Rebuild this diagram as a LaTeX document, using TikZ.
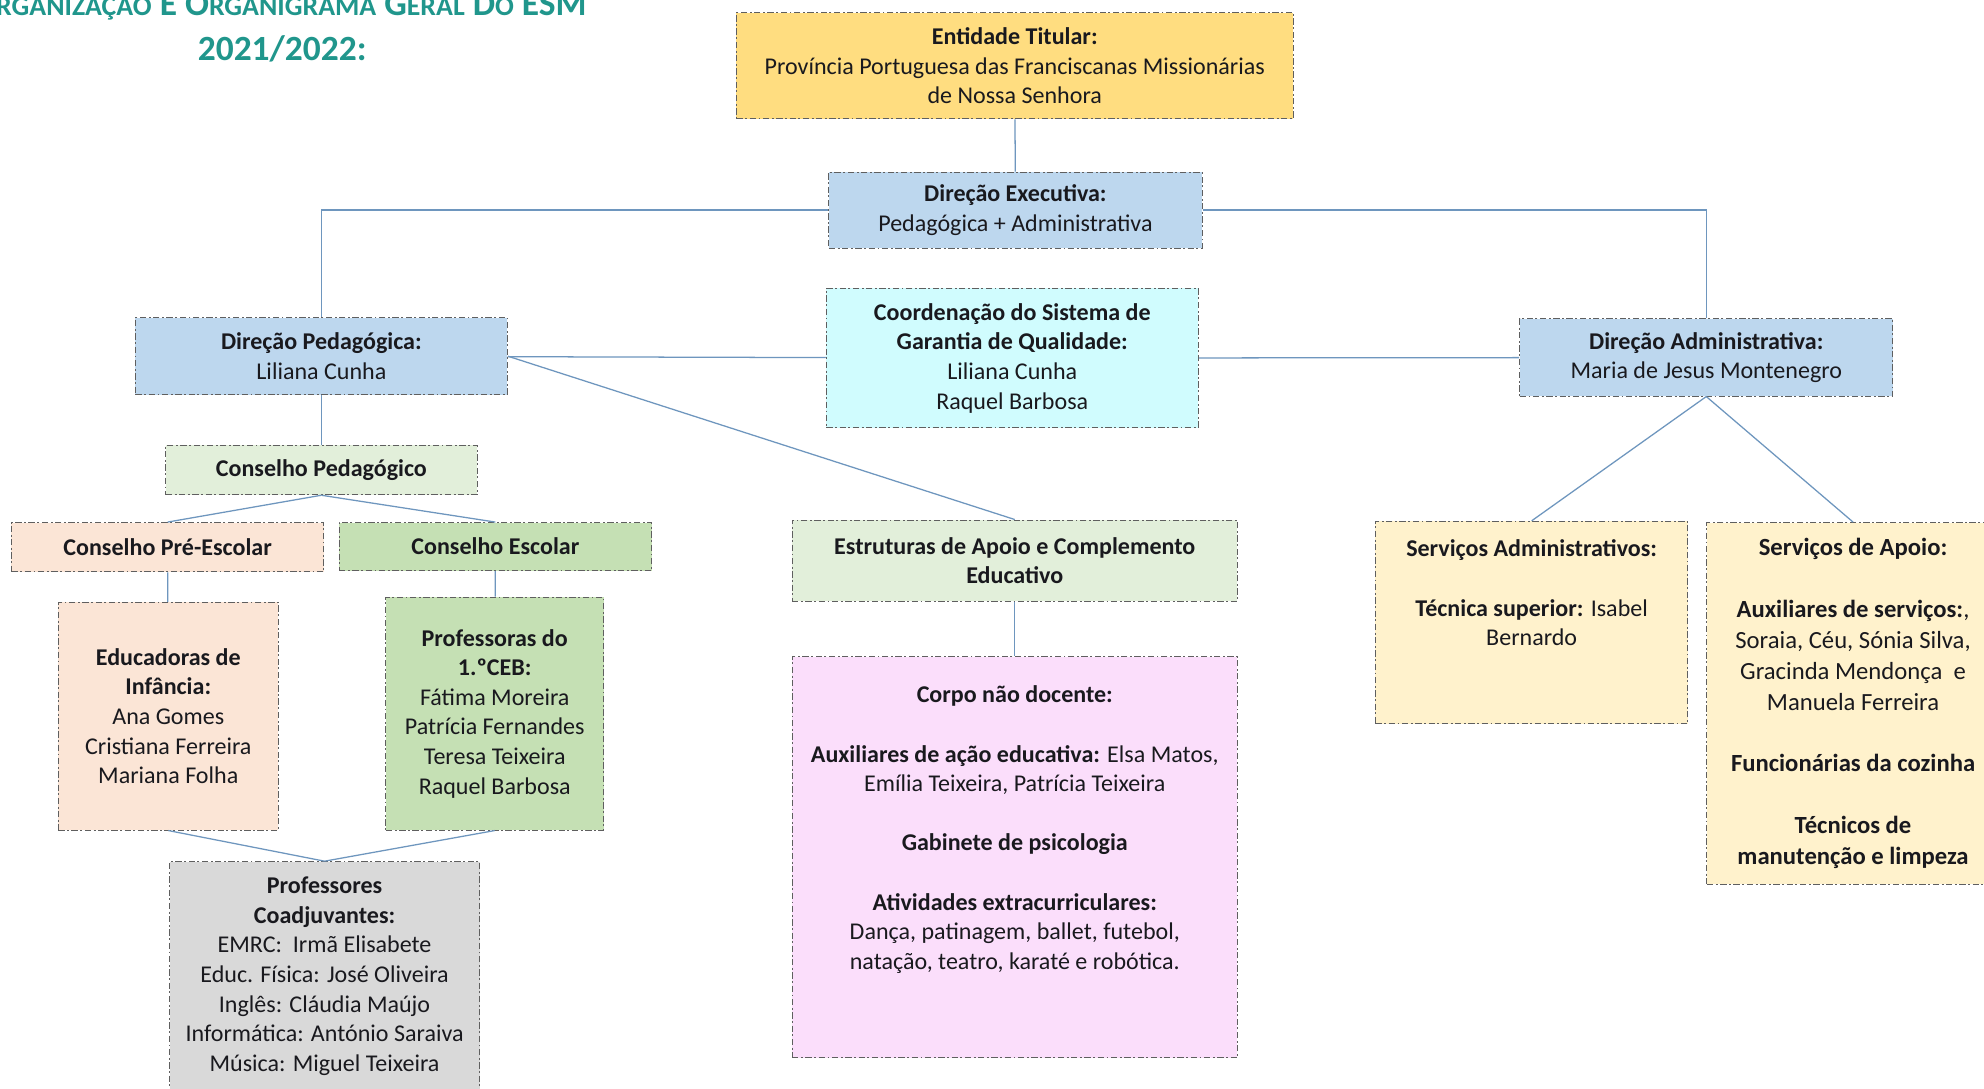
\documentclass[tikz,border=0pt]{standalone}
\usepackage{fontspec}
\setmainfont{Carlito}
\usepackage{tikz}

\definecolor{entcol}{RGB}{255,221,128}
\definecolor{dircol}{RGB}{189,215,238}
\definecolor{qualcol}{RGB}{208,252,254}
\definecolor{lgreen}{RGB}{226,239,218}
\definecolor{peach}{RGB}{251,229,214}
\definecolor{mgreen}{RGB}{197,224,180}
\definecolor{greybox}{RGB}{217,217,217}
\definecolor{pinkbox}{RGB}{251,222,251}
\definecolor{servcol}{RGB}{255,242,204}
\definecolor{linkcol}{RGB}{110,150,190}
\definecolor{boxline}{RGB}{95,95,95}
\definecolor{txtcol}{RGB}{25,25,30}
\definecolor{titlecol}{RGB}{32,150,140}

\newcommand\fakesc[1]{{\fontsize{22}{22}\selectfont #1}}

\begin{document}
\begin{tikzpicture}[x=1pt, y=-1pt, thick,
                    main node/.style={rectangle,draw=boxline,dash pattern=on 5pt off 2pt on 1.5pt off 2pt,inner sep=2pt,
                                      align=center,text=txtcol,font=\fontsize{19}{23.4}\selectfont},
                    elbow/.style={to path={-| (\tikztotarget)}},
                    title/.style={text=titlecol,inner sep=0pt,font=\fontsize{28}{34}\selectfont\bfseries}]

  \fill[white] (0,0) rectangle (1568,860);
  \useasboundingbox (0,0) rectangle (1568,860);

  \node[title,anchor=base east] (16) at (464,12.6) {O\fakesc{RGANIZAÇÃO} E O\fakesc{RGANIGRAMA} G\fakesc{ERAL} D\fakesc{O} ESM};
  \node[title,anchor=base] (17) at (223,47.5) {2021/2022:};

  \node[main node,fill=entcol,minimum width=440,minimum height=84] (1) at (802,52)
    {\textbf{Entidade Titular:}\\Província Portuguesa das Franciscanas Missionárias\\de Nossa Senhora};
  \node[main node,fill=dircol,minimum width=295,minimum height=60] (2) at (802.5,166)
    {\textbf{Direção Executiva:}\\Pedagógica + Administrativa};
  \node[main node,fill=dircol,minimum width=294,minimum height=61] (3) at (254,281.5)
    {\textbf{Direção Pedagógica:}\\Liliana Cunha};
  \node[main node,fill=qualcol,minimum width=294,minimum height=110] (4) at (800,283)
    {\textbf{Coordenação do Sistema de}\\\textbf{Garantia de Qualidade:}\\Liliana Cunha\\Raquel Barbosa};
  \node[main node,fill=dircol,minimum width=295,minimum height=61] (5) at (1348.5,282.5)
    {\textbf{Direção Administrativa:}\\Maria de Jesus Montenegro};

  \node[main node,fill=lgreen,minimum width=246,minimum height=39] (6) at (254,371.5)
    {\textbf{Conselho Pedagógico}};
  \node[main node,fill=peach,minimum width=247,minimum height=39] (7) at (132.5,432.5)
    {\textbf{Conselho Pré-Escolar}};
  \node[main node,fill=mgreen,minimum width=247,minimum height=38] (8) at (391.5,432)
    {\textbf{Conselho Escolar}};
  \node[main node,fill=peach,minimum width=174,minimum height=180] (9) at (133,566)
    {\textbf{Educadoras de}\\\textbf{Infância:}\\Ana Gomes\\Cristiana Ferreira\\Mariana Folha};
  \node[main node,fill=mgreen,minimum width=172,minimum height=184] (10) at (391,564)
    {\textbf{Professoras do}\\\textbf{1.ºCEB:}\\Fátima Moreira\\Patrícia Fernandes\\Teresa Teixeira\\Raquel Barbosa};
  \node[main node,fill=greybox,minimum width=245,minimum height=181] (11) at (256.5,771.5)
    {\textbf{Professores}\\\textbf{Coadjuvantes:}\\EMRC:~ Irmã Elisabete\\Educ. Física: José Oliveira\\Inglês: Cláudia Maújo\\Informática: António Saraiva\\Música: Miguel Teixeira};

  \node[main node,fill=lgreen,minimum width=352,minimum height=64] (12) at (802,443)
    {\textbf{Estruturas de Apoio e Complemento}\\\textbf{Educativo}};
  \node[main node,fill=pinkbox,minimum width=352,minimum height=317] (13) at (802,677.5)
    {\textbf{Corpo não docente:}\\\mbox{}\\\textbf{Auxiliares de ação educativa:} Elsa Matos,\\Emília Teixeira, Patrícia Teixeira\\\mbox{}\\
     \textbf{Gabinete de psicologia}\\\mbox{}\\\textbf{Atividades extracurriculares:}\\Dança, patinagem, ballet, futebol,\\natação, teatro, karaté e robótica.\\\mbox{}\\\mbox{}};

  \node[main node,fill=servcol,minimum width=247,minimum height=160] (14) at (1210.5,492)
    {\textbf{Serviços Administrativos:}\\\mbox{}\\\textbf{Técnica superior:} Isabel\\Bernardo\\\mbox{}\\\mbox{}};
  \node[main node,fill=servcol,minimum width=231,minimum height=286,font=\fontsize{19.5}{24.4}\selectfont] (15) at (1464.5,556)
    {\textbf{Serviços de Apoio:}\\\mbox{}\\\textbf{Auxiliares de serviços:},\\Soraia, Céu, Sónia Silva,\\Gracinda Mendonça~ e\\Manuela Ferreira\\\mbox{}\\
     \textbf{Funcionárias da cozinha}\\\mbox{}\\\textbf{Técnicos de}\\\textbf{manutenção e limpeza}};

  \path[every edge/.style={draw=linkcol,line width=1pt}]
    (1) edge (2)
    (2) edge[elbow] (3)
    (2) edge[elbow] (5)
    (3) edge (4)
    (4) edge (5)
    (3.east) edge (12.north)
    (3) edge (6)
    (6.south) edge (7.north)
    (6.south) edge (8.north)
    (7) edge (9)
    (8) edge (10)
    (9.south) edge (11.north)
    (10.south) edge (11.north)
    (12) edge (13)
    (5.south) edge (14.north)
    (5.south) edge (15.north)
  ;

\end{tikzpicture}
\end{document}
